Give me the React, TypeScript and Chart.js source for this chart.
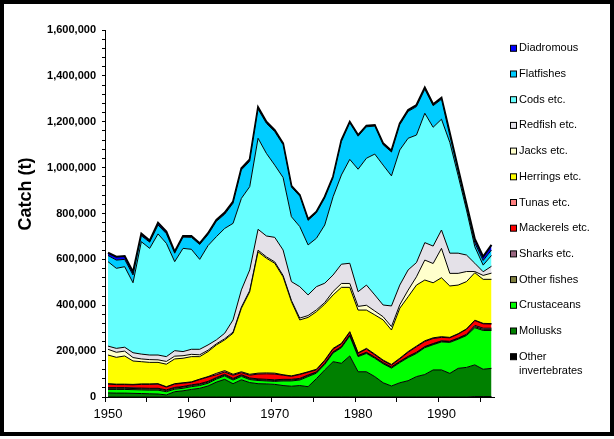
import React, { useEffect, useRef } from "react";
import { Chart, registerables } from "chart.js";

Chart.register(...registerables);

// ---------- data (tonnes) ----------
const years = [
  1950, 1951, 1952, 1953, 1954, 1955, 1956, 1957, 1958, 1959,
  1960, 1961, 1962, 1963, 1964, 1965, 1966, 1967, 1968, 1969,
  1970, 1971, 1972, 1973, 1974, 1975, 1976, 1977, 1978, 1979,
  1980, 1981, 1982, 1983, 1984, 1985, 1986, 1987, 1988, 1989,
  1990, 1991, 1992, 1993, 1994, 1995, 1996,
];

// stacking order: bottom -> top
const otherInvertebrates = [
  0, 0, 0, 0, 0, 0, 0, 0, 0, 0,
  0, 0, 0, 0, 0, 0, 0, 0, 0, 0,
  0, 0, 0, 0, 0, 0, 0, 0, 0, 0,
  0, 0, 0, 0, 0, 0, 0, 0, 0, 0,
  0, 0, 0, 0, 2000, 2000, 2000,
];
const mollusks = [
  18000, 17000, 17000, 16000, 15000, 14000, 13000, 9000, 23000, 27000,
  33000, 38000, 48000, 65000, 77000, 58000, 75000, 63000, 58000, 57000,
  55000, 50000, 47000, 50000, 45000, 80000, 118000, 154000, 147000, 179000,
  110000, 110000, 89000, 62000, 48000, 62000, 71000, 89000, 98000, 118000,
  118000, 103000, 125000, 129000, 138000, 119000, 123000,
];
const crustaceans = [
  15000, 16000, 16000, 16000, 16000, 16000, 17000, 14000, 11000, 11000,
  12000, 12000, 12000, 13000, 15000, 16000, 15000, 13000, 14000, 13000,
  13000, 20000, 23000, 24000, 44000, 24000, 24000, 38000, 68000, 87000,
  66000, 80000, 80000, 83000, 78000, 88000, 101000, 101000, 117000, 110000,
  122000, 135000, 127000, 139000, 162000, 169000, 165000,
];
const otherFishes = [
  5000, 5000, 5000, 5000, 5000, 5000, 5000, 5000, 5000, 5000,
  5000, 5000, 5000, 4000, 4000, 4000, 4000, 4000, 4000, 4000,
  4000, 4000, 4000, 4000, 4000, 3000, 3000, 3000, 3000, 3000,
  3000, 3000, 3000, 3000, 3000, 3000, 3000, 3000, 3000, 3000,
  3000, 3000, 3000, 3000, 5000, 5000, 5000,
];
const sharks = [
  3000, 3000, 3000, 3000, 3000, 3000, 3000, 3000, 3000, 3000,
  3000, 3000, 3000, 3000, 3000, 3000, 3000, 3000, 3000, 3000,
  3000, 3000, 3000, 3000, 3000, 2000, 2000, 2000, 2000, 2000,
  2000, 2000, 2000, 2000, 2000, 2000, 2000, 2000, 2000, 2000,
  2000, 2000, 2000, 2000, 5000, 5000, 5000,
];
const mackerels = [
  15000, 13000, 13000, 13000, 16000, 17000, 18000, 12000, 14000, 14000,
  11000, 18000, 19000, 12000, 10000, 14000, 9000, 12000, 21000, 24000,
  25000, 18000, 13000, 17000, 12000, 9000, 11000, 12000, 11000, 11000,
  9000, 14000, 10000, 8000, 8000, 11000, 18000, 24000, 22000, 22000,
  15000, 15000, 17000, 22000, 21000, 19000, 18000,
];
const tunas = [
  2000, 2000, 2000, 2000, 2000, 2000, 2000, 2000, 2000, 2000,
  2000, 2000, 2000, 6000, 6000, 4000, 4000, 4000, 4000, 4000,
  4000, 2000, 2000, 2000, 2000, 3000, 3000, 3000, 3000, 3000,
  3000, 3000, 3000, 3000, 3000, 3000, 3000, 3000, 3000, 3000,
  3000, 2000, 2000, 2000, 2000, 2000, 2000,
];
const herrings = [
  125000, 117000, 123000, 102000, 97000, 94000, 93000, 98000, 108000, 107000,
  110000, 98000, 109000, 124000, 134000, 179000, 277000, 360000, 529000, 500000,
  479000, 427000, 324000, 236000, 237000, 251000, 244000, 233000, 244000, 193000,
  186000, 167000, 171000, 175000, 150000, 218000, 239000, 266000, 265000, 240000,
  257000, 224000, 212000, 206000, 207000, 192000, 193000,
];
const jacks = [
  25000, 22000, 21000, 15000, 12000, 12000, 11000, 12000, 12000, 11000,
  10000, 8000, 6000, 5000, 5000, 5000, 5000, 5000, 7000, 6000,
  6000, 6000, 5000, 8000, 8000, 8000, 7000, 15000, 17000, 17000,
  16000, 21000, 17000, 14000, 15000, 15000, 29000, 36000, 87000, 84000,
  128000, 55000, 51000, 44000, 5000, 17000, 27000,
];
const redfish = [
  14000, 17000, 17000, 21000, 21000, 20000, 21000, 21000, 24000, 18000,
  22000, 24000, 23000, 17000, 24000, 53000, 75000, 90000, 91000, 91000,
  107000, 111000, 82000, 137000, 90000, 101000, 84000, 72000, 84000, 88000,
  64000, 88000, 70000, 51000, 90000, 86000, 88000, 62000, 76000, 76000,
  80000, 88000, 88000, 72000, 36000, 16000, 30000,
];
const cods = [
  368000, 349000, 351000, 305000, 490000, 465000, 528000, 494000, 388000, 450000,
  436000, 392000, 433000, 450000, 457000, 421000, 399000, 363000, 397000, 360000,
  315000, 316000, 283000, 262000, 218000, 211000, 254000, 341000, 389000, 453000,
  534000, 553000, 614000, 610000, 567000, 589000, 574000, 556000, 564000, 518000,
  483000, 483000, 338000, 196000, 72000, 29000, 47000,
];
const flatfishes = [
  27000, 36000, 32000, 34000, 26000, 27000, 39000, 42000, 37000, 49000,
  52000, 65000, 48000, 67000, 62000, 88000, 124000, 111000, 127000, 131000,
  146000, 143000, 129000, 133000, 107000, 111000, 118000, 83000, 146000, 159000,
  144000, 137000, 122000, 89000, 104000, 110000, 117000, 124000, 105000, 94000,
  87000, 30000, 19000, 15000, 17000, 20000, 24000,
];
const diadromous = [
  12000, 15000, 15000, 13000, 9000, 7000, 10000, 9000, 6000, 5000,
  6000, 5000, 6000, 6000, 7000, 7000, 7000, 8000, 8000, 7000,
  7000, 6000, 5000, 5000, 5000, 5000, 5000, 5000, 6000, 5000,
  5000, 5000, 5000, 6000, 6000, 6000, 6000, 7000, 7000, 6000,
  7000, 11000, 11000, 11000, 17000, 17000, 22000,
];

const seriesNames = [
  "Other invertebrates",
  "Mollusks",
  "Crustaceans",
  "Other fishes",
  "Sharks etc.",
  "Mackerels etc.",
  "Tunas etc.",
  "Herrings etc.",
  "Jacks etc.",
  "Redfish etc.",
  "Cods etc.",
  "Flatfishes",
  "Diadromous",
];
const seriesValues = [
  otherInvertebrates, mollusks, crustaceans, otherFishes, sharks, mackerels,
  tunas, herrings, jacks, redfish, cods, flatfishes, diadromous,
];
const seriesColors = [
  "#000000", "#008000", "#00FF00", "#808040", "#996680", "#FF0000",
  "#FF8080", "#FFFF00", "#FFFFCC", "#E4E1E8", "#66FFFF", "#00CCFF", "#0000FF",
];

const yTickValues: number[] = [];
for (let v = 0; v <= 1600000; v += 40000) yTickValues.push(v);
const xTickValues = [
  1949.64, 1954.64, 1959.64, 1964.64, 1969.64, 1974.64, 1979.64, 1984.64,
  1989.64, 1994.64,
];

const overlayPlugin = {
  id: "overlay",
  afterDraw(chart: any) {
    const ctx = chart.ctx as CanvasRenderingContext2D;
    ctx.save();
    // outer frame
    ctx.strokeStyle = "#000";
    ctx.lineWidth = 4;
    ctx.strokeRect(2, 2, 610, 432);

    // y-axis title
    ctx.save();
    ctx.translate(26, 194);
    ctx.rotate(-Math.PI / 2);
    ctx.font = "bold 18px Arial";
    ctx.fillStyle = "#000";
    ctx.textAlign = "center";
    ctx.textBaseline = "middle";
    ctx.fillText("Catch (t)", 0, 0);
    ctx.restore();

    // legend (top item = top of stack)
    ctx.font = "11px Arial";
    ctx.textAlign = "left";
    ctx.textBaseline = "middle";
    const n = seriesNames.length;
    for (let k = 0; k < n; k++) {
      const idx = n - 1 - k;
      const y = 48.3 + k * 25.7;
      ctx.fillStyle = seriesColors[idx];
      ctx.fillRect(510.5, y - 3, 6, 6);
      ctx.lineWidth = 1;
      ctx.strokeStyle = "#000";
      ctx.strokeRect(510.5, y - 3, 6, 6);
      ctx.fillStyle = "#000";
      const name = seriesNames[idx];
      if (ctx.measureText(name).width > 85) {
        const parts = name.split(" ");
        ctx.fillText(parts[0], 519, y);
        ctx.fillText(parts.slice(1).join(" "), 519, y + 14);
      } else {
        ctx.fillText(name, 519, y);
      }
    }
    ctx.restore();
  },
};

export default function App() {
  const canvasRef = useRef<HTMLCanvasElement | null>(null);

  useEffect(() => {
    if (!canvasRef.current) return;
    const datasets = seriesValues.map((vals, i) => ({
      label: seriesNames[i],
      data: years.map((yr, j) => ({ x: yr, y: vals[j] })),
      backgroundColor: seriesColors[i],
      borderColor: "#000000",
      borderWidth: i === seriesValues.length - 1 ? 2 : 1,
      fill: i === 0 ? "origin" : "-1",
      pointRadius: 0,
      pointHoverRadius: 0,
      tension: 0,
    }));

    const chart = new Chart(canvasRef.current, {
      type: "line",
      data: { datasets: datasets as any },
      options: {
        animation: false,
        responsive: false,
        events: [],
        layout: { padding: { top: 30, right: 119.5, left: 0, bottom: 0 } },
        plugins: {
          legend: { display: false },
          tooltip: { enabled: false },
          title: { display: false },
        },
        scales: {
          x: {
            type: "linear",
            min: 1949.64,
            max: 1996.36,
            afterBuildTicks: (s: any) => {
              s.ticks = xTickValues.map((v) => ({ value: v }));
            },
            afterFit: (s: any) => {
              s.height = 42;
            },
            grid: {
              drawOnChartArea: false,
              drawTicks: true,
              tickLength: 5,
              color: "#000",
            },
            border: { display: true, color: "#000", width: 1 },
            ticks: {
              autoSkip: false,
              maxRotation: 0,
              minRotation: 0,
              labelOffset: 3,
              padding: 5,
              color: "#000",
              font: { family: "Arial", size: 13 },
              callback: (v: any) => {
                const yr = Math.round(Number(v));
                return yr % 10 === 0 ? String(yr) : "";
              },
            },
          },
          y: {
            stacked: true,
            min: 0,
            max: 1600000,
            afterBuildTicks: (s: any) => {
              s.ticks = yTickValues.map((v) => ({ value: v }));
            },
            afterFit: (s: any) => {
              s.width = 105;
            },
            grid: {
              drawOnChartArea: false,
              drawTicks: true,
              tickLength: 3,
              color: "#000",
            },
            border: { display: true, color: "#000", width: 1 },
            ticks: {
              autoSkip: false,
              padding: 6,
              color: "#000",
              font: { family: "Arial", size: 11, weight: "bold" },
              callback: (v: any) =>
                Number(v) % 200000 === 0 ? Number(v).toLocaleString("en-US") : "",
            },
          },
        },
      },
      plugins: [overlayPlugin],
    });
    return () => chart.destroy();
  }, []);

  return (
    <div style={{ position: "absolute", left: 0, top: 0, width: 614, height: 439, background: "#fff" }}>
      <canvas ref={canvasRef} width={614} height={439} style={{ display: "block" }} />
    </div>
  );
}
